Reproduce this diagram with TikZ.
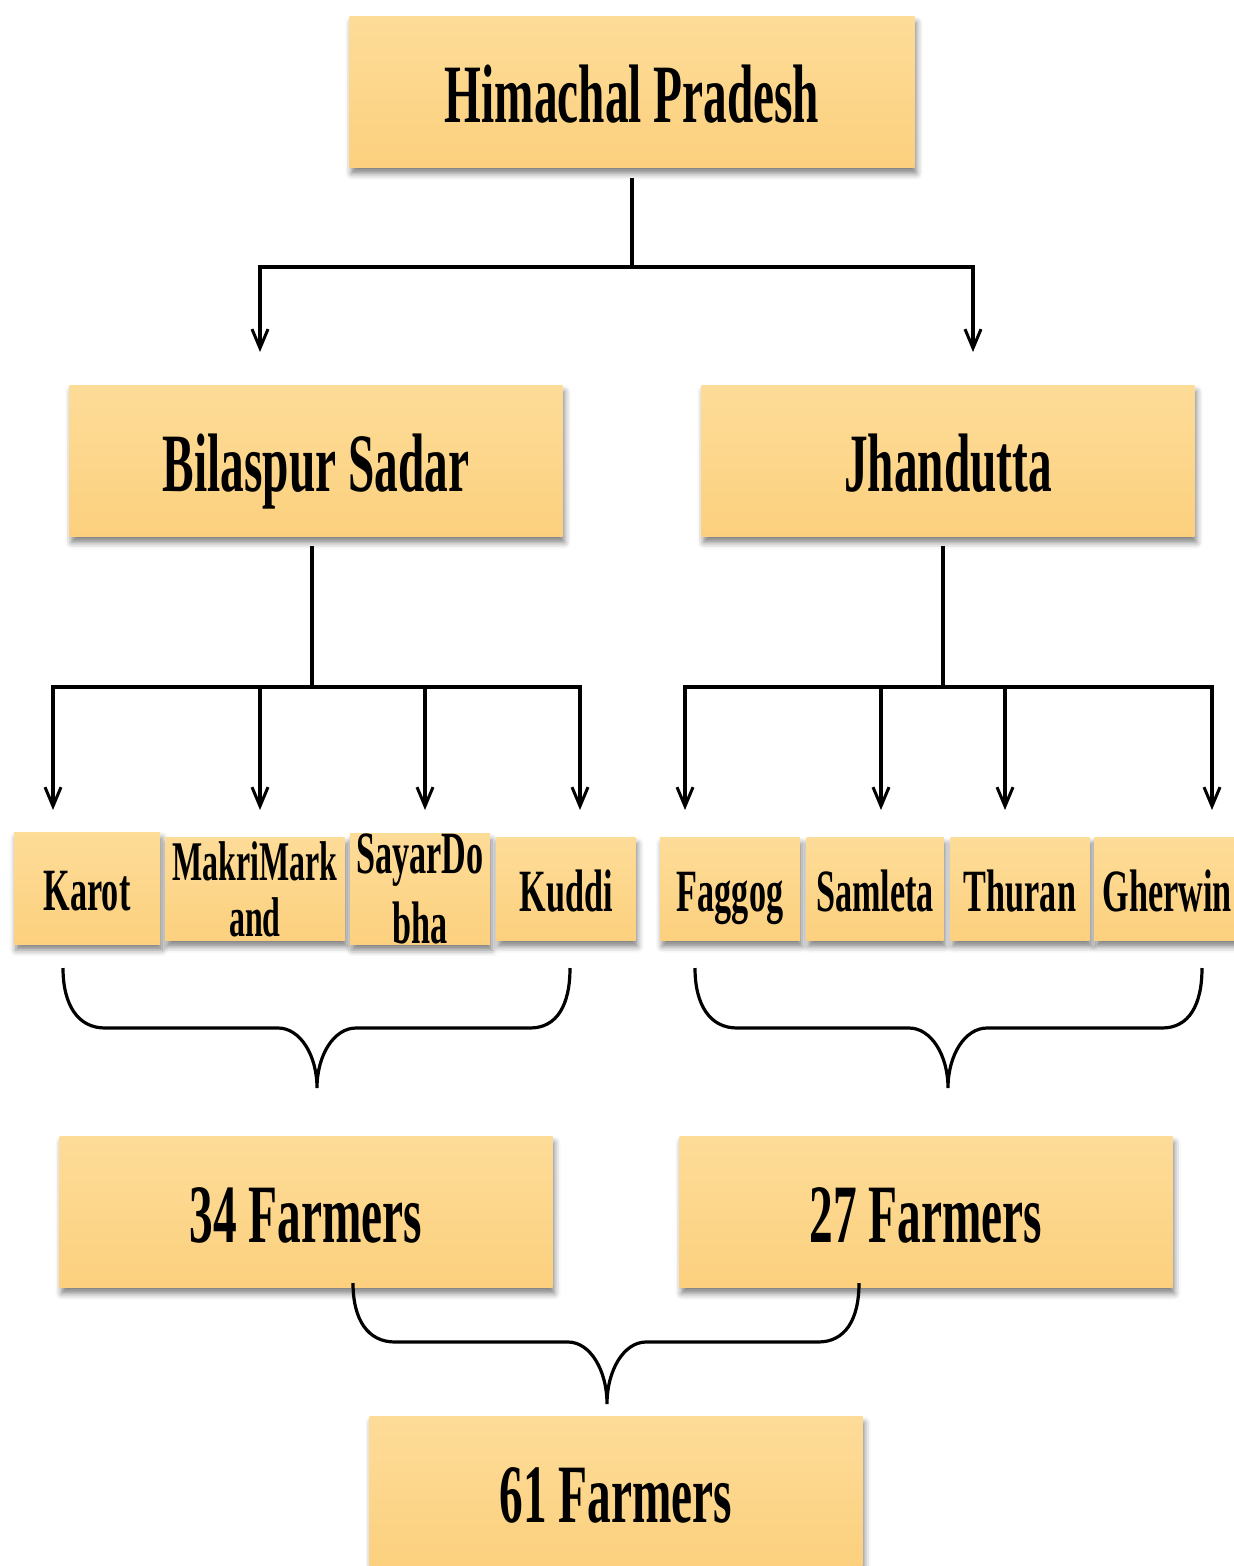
\documentclass[tikz,border=0pt]{standalone}
\usepackage{fontspec}
\newfontfamily\cf{Liberation Serif}[FakeStretch=0.57]
\usetikzlibrary{arrows.meta,shadows.blur,calc}
\begin{document}
\begin{tikzpicture}[x=1pt,y=-1pt,
  box/.style={rectangle, inner sep=0pt,
    top color={rgb,255:red,253;green,220;blue,152},
    bottom color={rgb,255:red,252;green,208;blue,126},
    blur shadow={shadow xshift=2pt, shadow yshift=-6pt, shadow blur radius=6pt, shadow opacity=50},
    font=\cf\bfseries\fontsize{83}{88}\selectfont, align=center},
  bigbox/.style={box, minimum width=493pt, minimum height=151pt, text height=70pt, text depth=10pt},
  vbox/.style={box, minimum width=140pt, minimum height=103pt,
    font=\cf\bfseries\fontsize{60}{56}\selectfont},
  vone/.style={vbox, text height=54pt, text depth=10pt},
  conn/.style={line width=3.2pt, line cap=rect},
  arr/.style={conn, -{Straight Barb[length=19pt,width=16pt,line width=3pt]}}
]
\useasboundingbox (0,0) rectangle (1234,1566);

% top level
\node[bigbox, minimum width=565pt] (hp) at (632,92) {Himachal Pradesh};
\node[bigbox] (bs) at (316,461) {Bilaspur Sadar};
\node[bigbox] (jh) at (948,461) {Jhandutta};

% villages
\node[vone, minimum width=146pt, minimum height=112pt] (karot) at (87,888) {Karot};
\node[vbox, minimum width=180pt, font=\cf\bfseries\fontsize{56}{56}\selectfont] (makri) at (255,889) {MakriMark\\and};
\node[vbox] (sayar) at (420,889) {SayarDo\\[14pt]bha};
\node[vone, minimum width=139pt] (kuddi) at (566,889) {Kuddi};
\node[vone] (faggog) at (730,889) {Faggog};
\node[vone, minimum width=137pt] (samleta) at (875,889) {Samleta};
\node[vone, minimum width=139pt] (thuran) at (1020,889) {Thuran};
\node[vone, minimum width=146pt] (gherwin) at (1167,889) {Gherwin};

% farmers
\node[bigbox] (f34) at (306,1212) {34 Farmers};
\node[bigbox] (f27) at (926,1212) {27 Farmers};
\node[bigbox] (f61) at (616,1492) {61 Farmers};

% connectors level 1
\coordinate (hpb) at (632,180);
\coordinate (hpj) at (632,267);
\coordinate (abs) at (260,352);
\coordinate (ajh) at (973,352);
\draw[conn] (hpb) -- (hpj);
\draw[arr] (hpj) -| (abs);
\draw[arr] (hpj) -| (ajh);

% connectors level 2 left
\coordinate (bsb) at (312,548);
\coordinate (bsj) at (312,687);
\draw[conn] (bsb) -- (bsj);
\coordinate (a1) at (53,810);
\coordinate (a2) at (260,810);
\coordinate (a3) at (425,810);
\coordinate (a4) at (580,810);
\draw[arr] (bsj) -| (a1);
\draw[arr] (bsj) -| (a4);
\draw[arr] (a2 |- bsj) -- (a2);
\draw[arr] (a3 |- bsj) -- (a3);

% connectors level 2 right
\coordinate (jhb) at (943,548);
\coordinate (jhj) at (943,687);
\draw[conn] (jhb) -- (jhj);
\coordinate (b1) at (685,810);
\coordinate (b2) at (881,810);
\coordinate (b3) at (1005,810);
\coordinate (b4) at (1212,810);
\draw[arr] (jhj) -| (b1);
\draw[arr] (jhj) -| (b4);
\draw[arr] (b2 |- jhj) -- (b2);
\draw[arr] (b3 |- jhj) -- (b3);

% braces
\draw[conn, line cap=butt]
  (63,968) .. controls (63,1005) and (78,1028) .. (105,1028) -- (278,1028)
  .. controls (300,1028) and (317,1055) .. (317,1088)
  .. controls (317,1055) and (334,1028) .. (356,1028) -- (530,1028)
  .. controls (557,1028) and (570,1005) .. (570,968);
\draw[conn, line cap=butt]
  (695,968) .. controls (695,1005) and (710,1028) .. (737,1028) -- (909,1028)
  .. controls (931,1028) and (948,1055) .. (948,1088)
  .. controls (948,1055) and (965,1028) .. (987,1028) -- (1162,1028)
  .. controls (1189,1028) and (1202,1005) .. (1202,968);
\draw[conn, line cap=butt]
  (353,1283) .. controls (353,1320) and (368,1342) .. (395,1342) -- (568,1342)
  .. controls (590,1342) and (607,1370) .. (607,1404)
  .. controls (607,1370) and (624,1342) .. (646,1342) -- (818,1342)
  .. controls (845,1342) and (859,1320) .. (859,1283);
\end{tikzpicture}
\end{document}
